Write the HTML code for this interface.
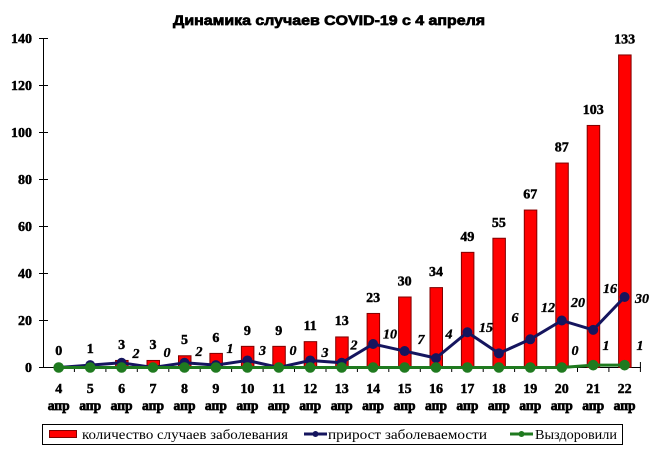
<!DOCTYPE html>
<html><head><meta charset="utf-8"><style>
html,body{margin:0;padding:0;background:#fff;}
svg{display:block;}
.t{font-family:"Liberation Serif",serif;font-weight:bold;font-size:14px;fill:#000;stroke:#000;stroke-width:0.45px;}
.it{font-family:"Liberation Serif",serif;font-weight:bold;font-style:italic;font-size:14px;fill:#000;stroke:#000;stroke-width:0.35px;}
.lg{font-family:"Liberation Serif",serif;font-size:13.5px;fill:#000;}
</style></head><body>
<svg width="659" height="449" viewBox="0 0 659 449" xmlns="http://www.w3.org/2000/svg">
<rect width="659" height="449" fill="#fff"/>
<text x="329" y="25" text-anchor="middle" font-family="Liberation Sans, sans-serif" font-weight="bold" font-size="14" stroke="#000" stroke-width="0.7" textLength="312" lengthAdjust="spacingAndGlyphs">Динамика случаев COVID-19 с 4 апреля</text>

<!-- axes -->
<g stroke="#000" stroke-width="1">
<line x1="43.5" y1="38.5" x2="43.5" y2="368"/>
<line x1="43" y1="367.5" x2="641" y2="367.5"/>
<line x1="39" y1="38.5" x2="48" y2="38.5"/>
<line x1="39" y1="85.5" x2="48" y2="85.5"/>
<line x1="39" y1="132.5" x2="48" y2="132.5"/>
<line x1="39" y1="179.5" x2="48" y2="179.5"/>
<line x1="39" y1="226.5" x2="48" y2="226.5"/>
<line x1="39" y1="273.5" x2="48" y2="273.5"/>
<line x1="39" y1="320.5" x2="48" y2="320.5"/>
<line x1="39" y1="367.5" x2="48" y2="367.5"/>
<g>
<line x1="74.4" y1="367" x2="74.4" y2="372"/><line x1="105.9" y1="367" x2="105.9" y2="372"/><line x1="137.3" y1="367" x2="137.3" y2="372"/><line x1="168.8" y1="367" x2="168.8" y2="372"/><line x1="200.2" y1="367" x2="200.2" y2="372"/><line x1="231.6" y1="367" x2="231.6" y2="372"/><line x1="263.1" y1="367" x2="263.1" y2="372"/><line x1="294.5" y1="367" x2="294.5" y2="372"/><line x1="326" y1="367" x2="326" y2="372"/><line x1="357.4" y1="367" x2="357.4" y2="372"/><line x1="388.8" y1="367" x2="388.8" y2="372"/><line x1="420.3" y1="367" x2="420.3" y2="372"/><line x1="451.7" y1="367" x2="451.7" y2="372"/><line x1="483.2" y1="367" x2="483.2" y2="372"/><line x1="514.6" y1="367" x2="514.6" y2="372"/><line x1="546" y1="367" x2="546" y2="372"/><line x1="577.5" y1="367" x2="577.5" y2="372"/><line x1="608.9" y1="367" x2="608.9" y2="372"/><line x1="640.4" y1="362" x2="640.4" y2="372"/>
</g>
</g>

<!-- y labels -->
<g class="t" text-anchor="end">
<text x="32" y="43">140</text>
<text x="32" y="90">120</text>
<text x="32" y="137">100</text>
<text x="32" y="184">80</text>
<text x="32" y="231">60</text>
<text x="32" y="278">40</text>
<text x="32" y="325">20</text>
<text x="32" y="372">0</text>
</g>

<!-- bars -->
<g fill="#ff0000" stroke="#800000" stroke-width="1">
<rect x="84.2" y="365.15" width="12.5" height="2.35"/>
<rect x="115.6" y="360.45" width="12.5" height="7.05"/>
<rect x="147" y="360.45" width="12.5" height="7.05"/>
<rect x="178.5" y="355.75" width="12.5" height="11.75"/>
<rect x="209.9" y="353.4" width="12.5" height="14.1"/>
<rect x="241.4" y="346.35" width="12.5" height="21.15"/>
<rect x="272.8" y="346.35" width="12.5" height="21.15"/>
<rect x="304.2" y="341.65" width="12.5" height="25.85"/>
<rect x="335.7" y="336.95" width="12.5" height="30.55"/>
<rect x="367.1" y="313.45" width="12.5" height="54.05"/>
<rect x="398.6" y="297" width="12.5" height="70.5"/>
<rect x="430" y="287.6" width="12.5" height="79.9"/>
<rect x="461.4" y="252.35" width="12.5" height="115.15"/>
<rect x="492.9" y="238.25" width="12.5" height="129.25"/>
<rect x="524.3" y="210.05" width="12.5" height="157.45"/>
<rect x="555.8" y="163.05" width="12.5" height="204.45"/>
<rect x="587.2" y="125.45" width="12.5" height="242.05"/>
<rect x="618.6" y="54.95" width="12.5" height="312.55"/>
</g>

<!-- bar labels -->
<g class="t" text-anchor="middle">
<text x="58.7" y="355">0</text>
<text x="90.2" y="353">1</text>
<text x="121.6" y="349">3</text>
<text x="153" y="349">3</text>
<text x="184.5" y="344">5</text>
<text x="215.9" y="342">6</text>
<text x="247.4" y="335">9</text>
<text x="278.8" y="335">9</text>
<text x="310.2" y="330">11</text>
<text x="341.7" y="325">13</text>
<text x="373.1" y="302">23</text>
<text x="404.6" y="285.5">30</text>
<text x="436" y="276">34</text>
<text x="467.4" y="241">49</text>
<text x="498.9" y="227">55</text>
<text x="530.3" y="198.5">67</text>
<text x="561.8" y="151.5">87</text>
<text x="593.2" y="114">103</text>
<text x="624.6" y="43.5">133</text>
</g>

<!-- blue line -->
<polyline fill="none" stroke="#15155e" stroke-width="3" stroke-linejoin="round" points="58.7,367.5 90.2,365.15 121.6,362.8 153,367.5 184.5,362.8 215.9,365.15 247.4,360.45 278.8,367.5 310.2,360.45 341.7,362.8 373.1,344 404.6,351.05 436,358.1 467.4,332.25 498.9,353.4 530.3,339.3 561.8,320.5 593.2,329.9 624.6,297"/>
<g fill="#15155e">
<circle cx="58.7" cy="367.5" r="5"/><circle cx="90.2" cy="365.15" r="5"/><circle cx="121.6" cy="362.8" r="5"/><circle cx="153" cy="367.5" r="5"/><circle cx="184.5" cy="362.8" r="5"/><circle cx="215.9" cy="365.15" r="5"/><circle cx="247.4" cy="360.45" r="5"/><circle cx="278.8" cy="367.5" r="5"/><circle cx="310.2" cy="360.45" r="5"/><circle cx="341.7" cy="362.8" r="5"/><circle cx="373.1" cy="344" r="5"/><circle cx="404.6" cy="351.05" r="5"/><circle cx="436" cy="358.1" r="5"/><circle cx="467.4" cy="332.25" r="5"/><circle cx="498.9" cy="353.4" r="5"/><circle cx="530.3" cy="339.3" r="5"/><circle cx="561.8" cy="320.5" r="5"/><circle cx="593.2" cy="329.9" r="5"/><circle cx="624.6" cy="297" r="5"/>
</g>

<!-- green line -->
<polyline fill="none" stroke="#1f7a1f" stroke-width="3" stroke-linejoin="round" points="58.7,367.5 90.2,367.5 121.6,367.5 153,367.5 184.5,367.5 215.9,367.5 247.4,367.5 278.8,367.5 310.2,367.5 341.7,367.5 373.1,367.5 404.6,367.5 436,367.5 467.4,367.5 498.9,367.5 530.3,367.5 561.8,367.5 593.2,365.15 624.6,365.15"/>
<g fill="#1f7a1f">
<circle cx="58.7" cy="367.5" r="5.3"/><circle cx="90.2" cy="367.5" r="5.3"/><circle cx="121.6" cy="367.5" r="5.3"/><circle cx="153" cy="367.5" r="5.3"/><circle cx="184.5" cy="367.5" r="5.3"/><circle cx="215.9" cy="367.5" r="5.3"/><circle cx="247.4" cy="367.5" r="5.3"/><circle cx="278.8" cy="367.5" r="5.3"/><circle cx="310.2" cy="367.5" r="5.3"/><circle cx="341.7" cy="367.5" r="5.3"/><circle cx="373.1" cy="367.5" r="5.3"/><circle cx="404.6" cy="367.5" r="5.3"/><circle cx="436" cy="367.5" r="5.3"/><circle cx="467.4" cy="367.5" r="5.3"/><circle cx="498.9" cy="367.5" r="5.3"/><circle cx="530.3" cy="367.5" r="5.3"/><circle cx="561.8" cy="367.5" r="5.3"/><circle cx="593.2" cy="365.15" r="5.3"/><circle cx="624.6" cy="365.15" r="5.3"/>
</g>

<!-- line labels -->
<g class="it" text-anchor="middle">
<text x="136" y="358">2</text>
<text x="167" y="357">0</text>
<text x="199" y="356">2</text>
<text x="230" y="353">1</text>
<text x="262.5" y="355">3</text>
<text x="293" y="355">0</text>
<text x="325" y="357">3</text>
<text x="354" y="349.5">2</text>
<text x="390" y="338.5">10</text>
<text x="421" y="344">7</text>
<text x="449" y="338.5">4</text>
<text x="486" y="332">15</text>
<text x="515" y="322">6</text>
<text x="548" y="312">12</text>
<text x="578" y="307">20</text>
<text x="610" y="293">16</text>
<text x="642" y="303">30</text>
<text x="575" y="355">0</text>
<text x="606" y="350">1</text>
<text x="640" y="350">1</text>
</g>

<!-- x labels -->
<g class="t" text-anchor="middle">
<text x="58.7" y="393">4</text><text x="90.2" y="393">5</text><text x="121.6" y="393">6</text><text x="153" y="393">7</text><text x="184.5" y="393">8</text><text x="215.9" y="393">9</text><text x="247.4" y="393">10</text><text x="278.8" y="393">11</text><text x="310.2" y="393">12</text><text x="341.7" y="393">13</text><text x="373.1" y="393">14</text><text x="404.6" y="393">15</text><text x="436" y="393">16</text><text x="467.4" y="393">17</text><text x="498.9" y="393">18</text><text x="530.3" y="393">19</text><text x="561.8" y="393">20</text><text x="593.2" y="393">21</text><text x="624.6" y="393">22</text>
</g>
<g class="t" text-anchor="middle" font-size="13" style="stroke-width:0.7px">
<text x="58.7" y="410" textLength="22" lengthAdjust="spacingAndGlyphs">апр</text><text x="90.2" y="410" textLength="22" lengthAdjust="spacingAndGlyphs">апр</text><text x="121.6" y="410" textLength="22" lengthAdjust="spacingAndGlyphs">апр</text><text x="153" y="410" textLength="22" lengthAdjust="spacingAndGlyphs">апр</text><text x="184.5" y="410" textLength="22" lengthAdjust="spacingAndGlyphs">апр</text><text x="215.9" y="410" textLength="22" lengthAdjust="spacingAndGlyphs">апр</text><text x="247.4" y="410" textLength="22" lengthAdjust="spacingAndGlyphs">апр</text><text x="278.8" y="410" textLength="22" lengthAdjust="spacingAndGlyphs">апр</text><text x="310.2" y="410" textLength="22" lengthAdjust="spacingAndGlyphs">апр</text><text x="341.7" y="410" textLength="22" lengthAdjust="spacingAndGlyphs">апр</text><text x="373.1" y="410" textLength="22" lengthAdjust="spacingAndGlyphs">апр</text><text x="404.6" y="410" textLength="22" lengthAdjust="spacingAndGlyphs">апр</text><text x="436" y="410" textLength="22" lengthAdjust="spacingAndGlyphs">апр</text><text x="467.4" y="410" textLength="22" lengthAdjust="spacingAndGlyphs">апр</text><text x="498.9" y="410" textLength="22" lengthAdjust="spacingAndGlyphs">апр</text><text x="530.3" y="410" textLength="22" lengthAdjust="spacingAndGlyphs">апр</text><text x="561.8" y="410" textLength="22" lengthAdjust="spacingAndGlyphs">апр</text><text x="593.2" y="410" textLength="22" lengthAdjust="spacingAndGlyphs">апр</text><text x="624.6" y="410" textLength="22" lengthAdjust="spacingAndGlyphs">апр</text>
</g>

<!-- legend -->
<rect x="42.5" y="424.5" width="580" height="20" fill="#fff" stroke="#000" stroke-width="1"/>
<rect x="49.5" y="430.5" width="27" height="7" fill="#ff0000" stroke="#800000" stroke-width="1"/>
<text class="lg" x="82" y="439" textLength="206" lengthAdjust="spacingAndGlyphs">количество случаев заболевания</text>
<line x1="304" y1="434" x2="327" y2="434" stroke="#15155e" stroke-width="3"/>
<circle cx="315.5" cy="434" r="3" fill="#15155e"/>
<text class="lg" x="328" y="439" textLength="159" lengthAdjust="spacingAndGlyphs">прирост заболеваемости</text>
<line x1="510" y1="434" x2="533" y2="434" stroke="#1f7a1f" stroke-width="3"/>
<circle cx="521.5" cy="434" r="3" fill="#1f7a1f"/>
<text class="lg" x="535" y="439" textLength="82" lengthAdjust="spacingAndGlyphs">Выздоровили</text>
</svg>
</body></html>
